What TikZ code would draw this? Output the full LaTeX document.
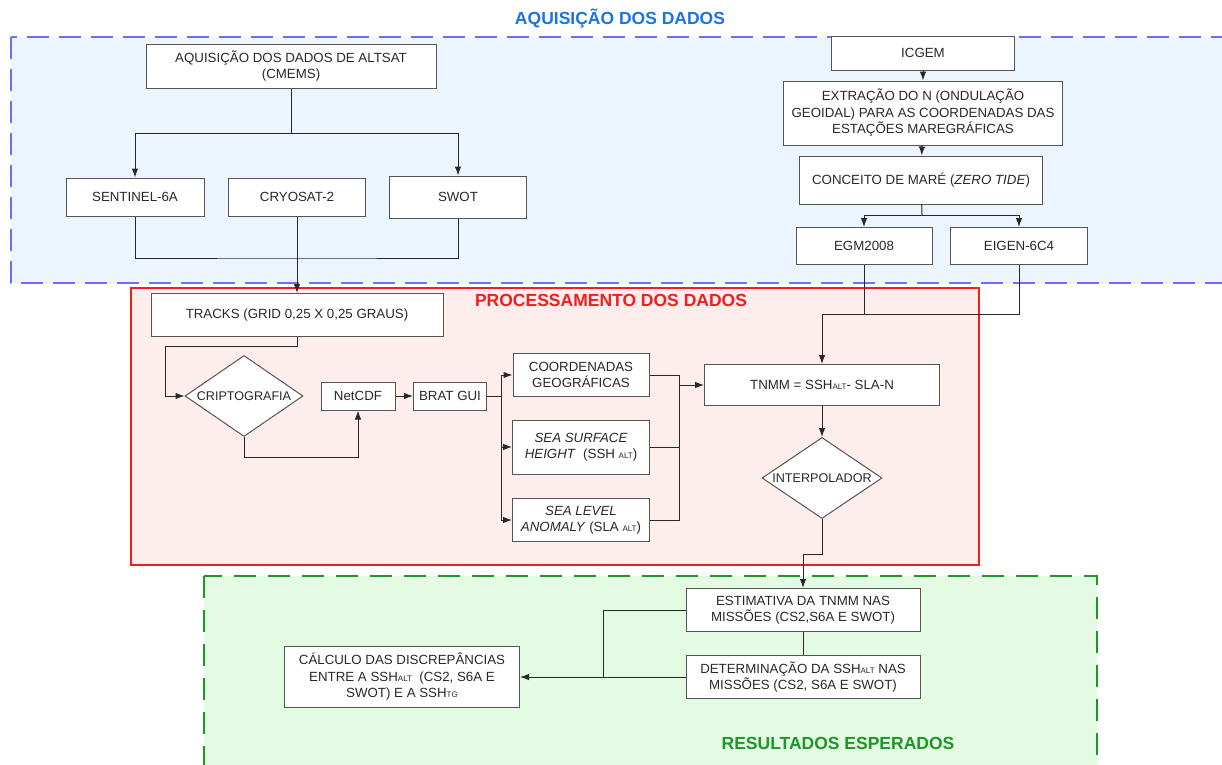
\documentclass[tikz,border=0pt]{standalone}
\usepackage{fontspec}
\setmainfont{Liberation Sans}
\usetikzlibrary{shapes.geometric,arrows.meta}
\definecolor{acqline}{RGB}{110,110,250}
\definecolor{acqfill}{RGB}{236,244,254}
\definecolor{acqtext}{RGB}{26,115,232}
\definecolor{procline}{RGB}{240,30,30}
\definecolor{procfill}{RGB}{253,237,237}
\definecolor{resline}{RGB}{30,150,40}
\definecolor{resfill}{RGB}{227,250,227}
\definecolor{boxgray}{RGB}{85,85,85}
\definecolor{txtgray}{RGB}{40,40,40}
\newcommand{\smallsub}[1]{{\fontsize{8}{8}\selectfont #1}}

\begin{document}
\begin{tikzpicture}[x=1pt, y=-1pt, line width=1pt, >={Latex[length=9pt,width=6.5pt]},
    box/.style={draw=boxgray, fill=white, inner sep=0pt, align=center, text=txtgray,
      font=\fontsize{13.3}{16.5}\selectfont},
    decision/.style={box, shape=diamond, aspect=1.46, font=\fontsize{12.6}{15}\selectfont},
    title/.style={font=\fontsize{17.5}{20}\selectfont\bfseries},
    link/.style={draw=txtgray}]
  \useasboundingbox (0,0) rectangle (1222,764);

  % regions
  \draw[acqline, fill=acqfill, line width=2.4pt, dash pattern=on 22pt off 10pt] (11,37) rectangle (1240,283);
  \draw[procline, fill=procfill, line width=2pt] (131,288) rectangle (979,565);
  \draw[resline, fill=resfill, line width=2.4pt, dash pattern=on 22pt off 12pt] (204,576) rectangle (1097,780);
  \node[title, text=acqtext] (tacq) at (620,19) {AQUISIÇÃO DOS DADOS};
  \node[title, text=procline] (tproc) at (611,300) {PROCESSAMENTO DOS DADOS};
  \node[title, text=resline] (tres) at (838,743) {RESULTADOS ESPERADOS};

  % aquisicao
  \node[box, minimum width=290, minimum height=44] (alt) at (291,66) {AQUISIÇÃO DOS DADOS DE ALTSAT\\(CMEMS)};
  \node[box, minimum width=138, minimum height=38] (sent) at (135,197) {SENTINEL-6A};
  \node[box, minimum width=137, minimum height=38] (cryo) at (297,197) {CRYOSAT-2};
  \node[box, minimum width=137, minimum height=42] (swot) at (458,197) {SWOT};
  \node[box, minimum width=183, minimum height=34] (icgem) at (923,53) {ICGEM};
  \node[box, minimum width=279, minimum height=64] (extr) at (923,113) {EXTRAÇÃO DO N (ONDULAÇÃO\\GEOIDAL) PARA AS COORDENADAS DAS\\ESTAÇÕES MAREGRÁFICAS};
  \node[box, minimum width=243, minimum height=48] (mare) at (921,180) {CONCEITO DE MARÉ (\textit{ZERO TIDE})};
  \node[box, minimum width=136, minimum height=37] (egm) at (864,246) {EGM2008};
  \node[box, minimum width=137, minimum height=37] (eigen) at (1019,246) {EIGEN-6C4};

  % processamento
  \node[box, minimum width=292, minimum height=43] (tracks) at (297,315) {TRACKS (GRID 0,25 X 0,25 GRAUS)};
  \node[decision, minimum width=118, minimum height=81] (cripto) at (244,396) {CRIPTOGRAFIA};
  \node[box, minimum width=74, minimum height=28] (netcdf) at (358,396) {NetCDF};
  \node[box, minimum width=73, minimum height=28] (brat) at (450,396) {BRAT GUI};
  \node[box, minimum width=136, minimum height=43] (coord) at (581,375) {COORDENADAS\\GEOGRÁFICAS};
  \node[box, minimum width=137, minimum height=54] (ssh) at (581,447) {\textit{SEA SURFACE}\\\textit{HEIGHT}~ (SSH \smallsub{ALT})};
  \node[box, minimum width=137, minimum height=43] (sla) at (581,520) {\textit{SEA LEVEL}\\\textit{ANOMALY} (SLA \smallsub{ALT})};
  \node[box, minimum width=235, minimum height=41] (tnmm) at (822,385) {TNMM = SSH\smallsub{ALT}- SLA-N};
  \node[decision, minimum width=120, minimum height=81] (interp) at (822,478) {INTERPOLADOR};

  % resultados
  \node[box, minimum width=234, minimum height=43] (estim) at (803,610) {ESTIMATIVA DA TNMM NAS\\MISSÕES (CS2,S6A E SWOT)};
  \node[box, minimum width=234, minimum height=43] (determ) at (803,677) {DETERMINAÇÃO DA SSH\smallsub{ALT} NAS\\MISSÕES (CS2, S6A E SWOT)};
  \node[box, minimum width=235, minimum height=61] (calc) at (402,677) {CÁLCULO DAS DISCREPÂNCIAS\\ENTRE A SSH\smallsub{ALT}~ (CS2, S6A E\\SWOT) E A SSH\smallsub{TG}};

  \coordinate (split1) at (291,133);
  \coordinate (merge1) at (297,258);
  \coordinate (split2) at (922,215);
  \coordinate (geo) at (822,314);
  \coordinate (fanin) at (679,385);
  \coordinate (jn) at (603,677);

  \draw[link] (alt) -- (split1);
  \draw[link,->] (split1) -| (sent);
  \draw[link,->] (split1) -| (swot);
  \draw[link] (sent) |- (merge1) -| (swot);
  \draw[link,->] (cryo) -- (tracks);

  \draw[link,->] (icgem) -- (extr);
  \draw[link,->] (extr) -- (mare);
  \draw[link] (mare) -- (split2);
  \draw[link,->] (split2) -| (egm);
  \draw[link,->] (split2) -| (eigen);
  \draw[link] (eigen) |- (geo);
  \draw[link] (egm) -- (egm |- geo);
  \draw[link,->] (geo) -- (tnmm);

  \draw[link,->] (tracks.south) -- ++(0,9) -| ([xshift=-19pt]cripto.west) -- (cripto.west);
  \draw[link,->] (cripto.south) -- ++(0,20) -| (netcdf.south);
  \draw[link,->] (netcdf) -- (brat);
  \draw[link,->] (brat.east) -- ++(14,0) |- (coord.west);
  \draw[link,->] (brat.east) -- ++(14,0) |- (ssh.west);
  \draw[link,->] (brat.east) -- ++(14,0) |- (sla.west);
  \draw[link] (coord) -| (fanin);
  \draw[link] (ssh) -| (fanin);
  \draw[link] (sla) -| (fanin);
  \draw[link,->] (fanin) -- (tnmm);
  \draw[link,->] (tnmm) -- (interp);
  \draw[link,->] (interp.south) -- ++(0,35) -| (estim.north);

  \draw[link] (estim) -- (determ);
  \draw[link] (estim) -| (jn);
  \draw[link,->] (determ) -- (calc);
\end{tikzpicture}
\end{document}
